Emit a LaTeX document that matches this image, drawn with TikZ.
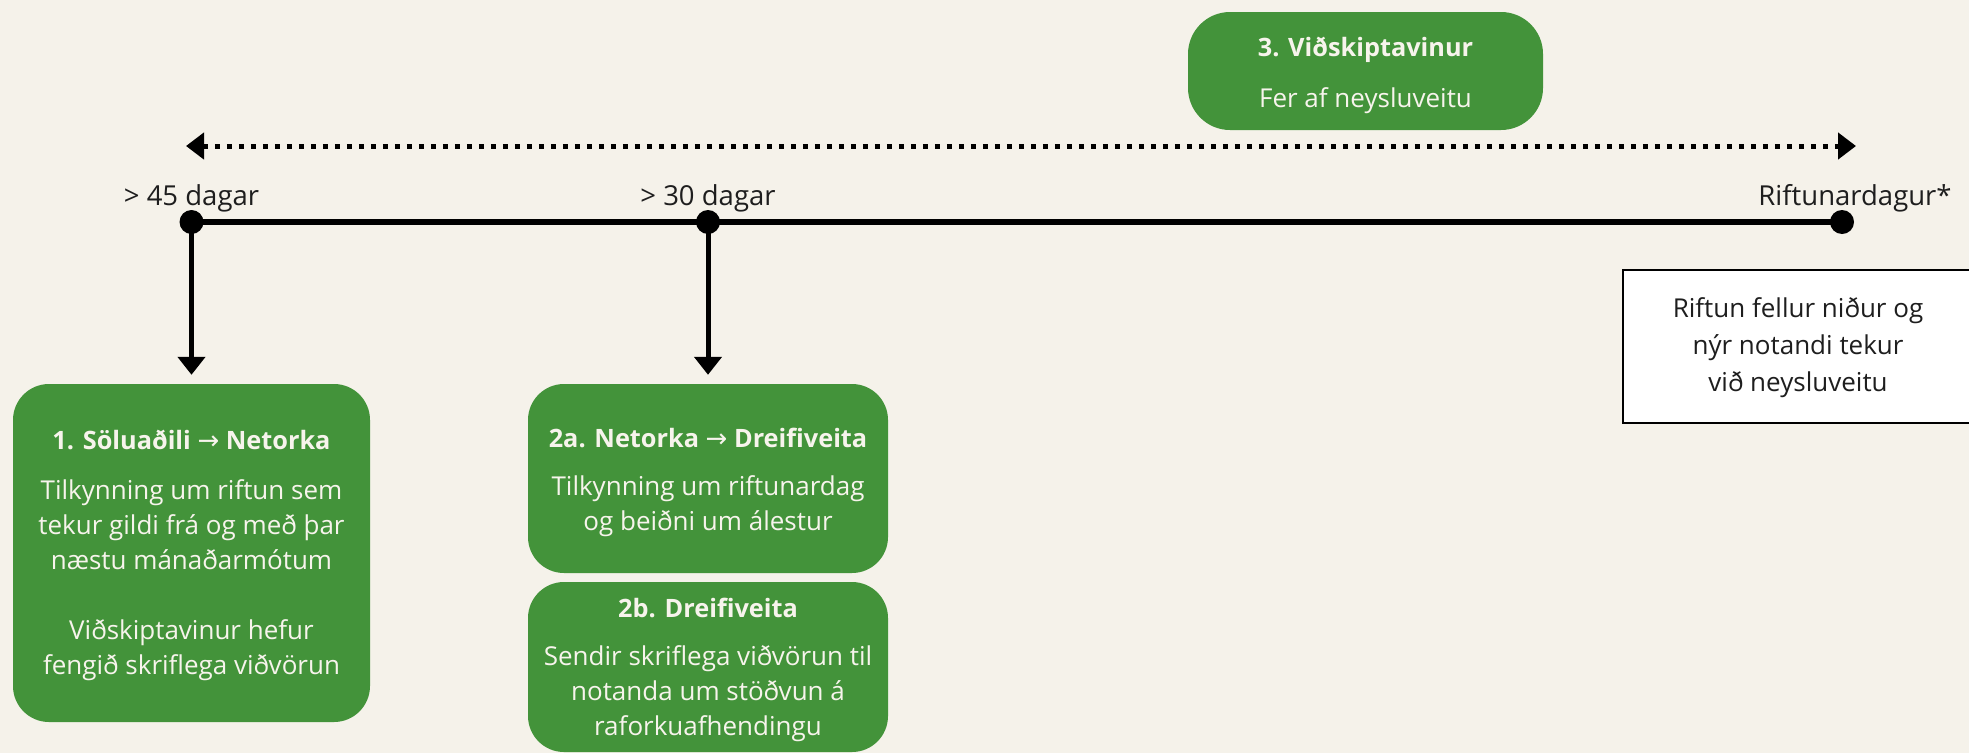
\documentclass[tikz,border=0pt]{standalone}
\usepackage{fontspec}
\setmainfont{Open Sans}
\newfontfamily\arrowfont{DejaVu Sans}
\usetikzlibrary{arrows.meta}
\definecolor{bg}{HTML}{F5F2EA}
\definecolor{grn}{HTML}{43933A}
\definecolor{ink}{HTML}{1E1E1E}
\definecolor{lt}{HTML}{F7F4EC}
\newcommand{\rarr}{{\fontsize{26}{26}\selectfont\arrowfont\mdseries\char"2192}}
\begin{document}
\begin{tikzpicture}[x=1pt,y=-1pt,
  gbox/.style={fill=grn, rounded corners=36pt, draw=none, inner sep=0pt},
  ttl/.style={text=lt, font=\fontsize{25.3}{30}\selectfont\bfseries, inner sep=0pt, anchor=base},
  bdy/.style={text=lt, font=\fontsize{26}{35}\selectfont, align=center, inner sep=0pt},
  lbl/.style={text=ink, font=\fontsize{27.5}{30}\selectfont, inner sep=0pt, anchor=base},
  tdot/.style={circle, fill=black, inner sep=0pt, minimum size=24pt},
  tl/.style={line width=6pt, black},
  arr/.style={line width=5pt, -{Triangle[length=18pt,width=27pt]}},
  dotarr/.style={line width=5pt, dash pattern=on 5.5pt off 6.5pt,
    {Triangle[length=18pt,width=26pt]}-{Triangle[length=18pt,width=26pt]}},
]
\fill[bg] (0,0) rectangle (1969,753);
\useasboundingbox (0,0) rectangle (1969,753);

% boxes
\node[gbox, minimum width=357pt, minimum height=338pt] (b1) at (191.5,553) {};
\node[gbox, minimum width=360pt, minimum height=189pt] (b2a) at (708,478.5) {};
\node[gbox, minimum width=360pt, minimum height=170pt] (b2b) at (708,667) {};
\node[gbox, rounded corners=42pt, minimum width=355pt, minimum height=118pt] (b3) at (1365.5,71) {};
\node[draw=black, line width=2.5pt, fill=white, minimum width=360pt, minimum height=153pt, inner sep=0pt] (wb) at (1803,346.5) {};

% timeline
\node[tdot] (d1) at (191.5,222) {};
\node[tdot] (d2) at (708,222) {};
\node[tdot] (d3) at (1842,222) {};
\draw[tl] (d1.center) -- (d3.center);
\draw[arr] (d1.center) -- ([yshift=9pt]b1.north);
\draw[arr] (d2.center) -- ([yshift=9pt]b2a.north);

\coordinate (da) at (186,146);
\coordinate (db) at (1856,146);
\draw[dotarr] (da) -- (db);

\node[lbl] (l1) at (191.5,205) {> 45 dagar};
\node[lbl] (l2) at (708,205) {> 30 dagar};
\node[lbl] (l3) at (1855,205) {Riftunardagur*};

% texts
\node[ttl] (t1) at (191.5,449) {1. Söluaðili \rarr{} Netorka};
\node[bdy] (x1) at (191.5,580.5) {Tilkynning um riftun sem\\tekur gildi frá og með þar\\næstu mánaðarmótum\\[35pt]Viðskiptavinur hefur\\fengið skriflega viðvörun};

\node[ttl] (t2a) at (708,447) {2a. Netorka \rarr{} Dreifiveita};
\node[bdy] (x2a) at (708,506.5) {Tilkynning um riftunardag\\og beiðni um álestur};

\node[ttl] (t2b) at (708,617) {2b. Dreifiveita};
\node[bdy] (x2b) at (708,694) {Sendir skriflega viðvörun til\\notanda um stöðvun á\\raforkuafhendingu};

\node[ttl] (t3) at (1365.5,56) {3. Viðskiptavinur};
\node[ttl, font=\fontsize{26}{30}\selectfont] (x3) at (1365.5,107) {Fer af neysluveitu};

\node[bdy, text=ink, font=\fontsize{26}{37}\selectfont] (xw) at (1798,348) {Riftun fellur niður og\\nýr notandi tekur\\við neysluveitu};
\end{tikzpicture}
\end{document}
